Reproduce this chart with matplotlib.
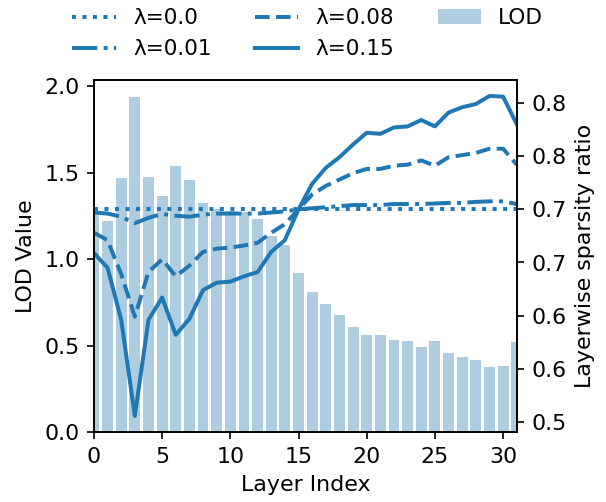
import numpy as np
import matplotlib; matplotlib.use('Agg'); import matplotlib.pyplot as plt
from matplotlib.ticker import FormatStrFormatter

layers = np.arange(32)
lod = [1.28, 1.22, 1.47, 1.94, 1.475, 1.365, 1.54, 1.46, 1.325, 1.29, 1.28, 1.275,
       1.235, 1.135, 1.08, 0.92, 0.81, 0.74, 0.675, 0.61, 0.56, 0.56, 0.53, 0.525,
       0.49, 0.525, 0.455, 0.435, 0.415, 0.375, 0.38, 0.52]
sp_000 = [0.700, 0.700, 0.700, 0.700, 0.700, 0.700, 0.700, 0.700, 0.700, 0.700, 0.700,
          0.700, 0.700, 0.700, 0.700, 0.700, 0.700, 0.700, 0.700, 0.700, 0.700, 0.700,
          0.700, 0.700, 0.700, 0.700, 0.700, 0.700, 0.700, 0.700, 0.700, 0.700]
sp_001 = [0.697, 0.696, 0.693, 0.687, 0.692, 0.6956, 0.694, 0.693, 0.695, 0.696, 0.696,
          0.696, 0.696, 0.697, 0.698, 0.700, 0.701, 0.702, 0.703, 0.704, 0.704, 0.704,
          0.705, 0.705, 0.705, 0.7055, 0.706, 0.706, 0.707, 0.7075, 0.7075, 0.705]
sp_008 = [0.678, 0.671, 0.639, 0.599, 0.641, 0.653, 0.637, 0.647, 0.660, 0.663, 0.664,
          0.666, 0.6685, 0.678, 0.686, 0.700, 0.714, 0.722, 0.728, 0.734, 0.738, 0.738,
          0.741, 0.742, 0.746, 0.741, 0.749, 0.751, 0.753, 0.757, 0.757, 0.742]
sp_015 = [0.659, 0.645, 0.596, 0.5056, 0.596, 0.617, 0.582, 0.597, 0.624, 0.631, 0.632,
          0.637, 0.641, 0.660, 0.671, 0.700, 0.724, 0.739, 0.749, 0.761, 0.772, 0.771,
          0.777, 0.778, 0.784, 0.778, 0.791, 0.796, 0.799, 0.8066, 0.806, 0.780]
lams = ['0.0', '0.01', '0.08', '0.15']
styles = [':', '-.', '--', '-']
right_ticks = [0.5, 0.55, 0.6, 0.65, 0.7, 0.75, 0.8]

plt.rcParams['font.size'] = 10.6
fig = plt.figure(figsize=(4.04, 3.347), dpi=150)
ax = fig.add_axes([0.155, 0.1394, 0.6977, 0.7012])
bars = ax.bar(layers, lod, width=0.8, color='#aecde0', label='LOD')
ax.set_xlim(0, 31)
ax.set_xlabel('Layer Index'); ax.set_ylabel('LOD Value')
ax.set_yticks([0.0, 0.5, 1.0, 1.5, 2.0])
ax.set_xticks([0, 5, 10, 15, 20, 25, 30])

ax2 = ax.twinx()
lines = []
for lam, ls, ys in zip(lams, styles, [sp_000, sp_001, sp_008, sp_015]):
    l, = ax2.plot(layers, ys, ls, color='#1f77b4', lw=1.9, label=f'λ={lam}')
    lines.append(l)
ax2.set_yticks(right_ticks)
ax2.yaxis.set_major_formatter(FormatStrFormatter('%.1f'))
ax2.set_ylabel('Layerwise sparsity ratio')
ax2.set_xlim(0, 31)

fig.legend(lines + [bars], [l.get_label() for l in lines] + ['LOD'], ncol=3,
           loc='lower center', bbox_to_anchor=(0.508, 0.843), frameon=False,
           fontsize=10.4)
fig.savefig('out.png', dpi=150)
